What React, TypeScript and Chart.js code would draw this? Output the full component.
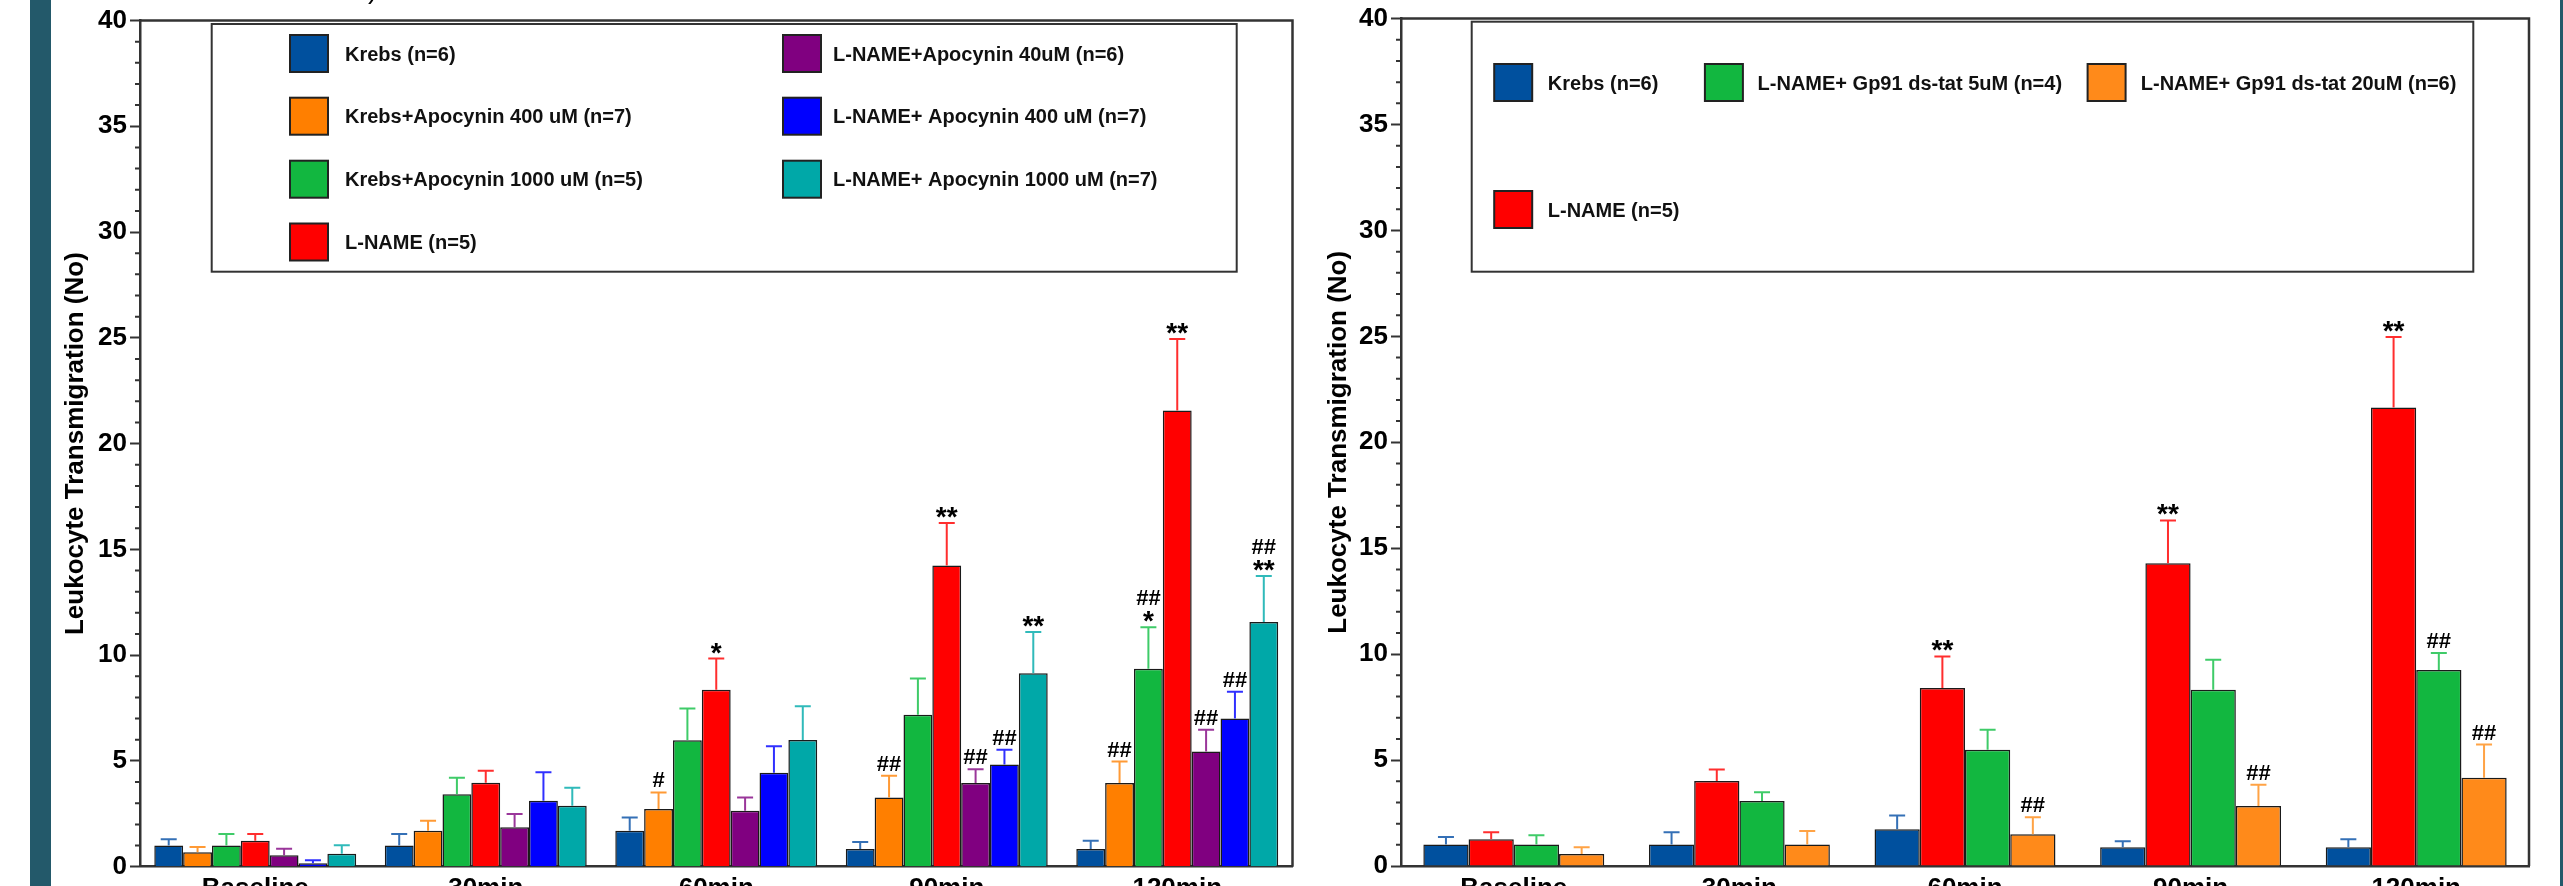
import React, { useEffect, useRef } from 'react';
import { Chart, registerables } from 'chart.js';

Chart.register(...registerables);

const FONT = "'Liberation Sans', Arial, Helvetica, sans-serif";

// ---------- shared ----------
const categories = ['Baseline', '30min', '60min', '90min', '120min'];
const yMin = 0;
const yMax = 40;
const yTitle = 'Leukocyte Transmigration (No)';

// ---------- left panel (Apocynin) ----------
const leftLabels = [
  'Krebs (n=6)',
  'Krebs+Apocynin 400 uM (n=7)',
  'Krebs+Apocynin 1000 uM (n=5)',
  'L-NAME (n=5)',
  'L-NAME+Apocynin 40uM (n=6)',
  'L-NAME+ Apocynin 400 uM (n=7)',
  'L-NAME+ Apocynin 1000 uM (n=7)',
];
const krebsA = [1.0, 1.0, 1.7, 0.84, 0.84];
const krebsAErr = [0.3, 0.54, 0.63, 0.33, 0.39];
const apo400 = [0.68, 1.7, 2.73, 3.27, 3.96];
const apo400Err = [0.25, 0.47, 0.78, 1.03, 1.01];
const apo1000 = [1.0, 3.42, 5.98, 7.18, 9.36];
const apo1000Err = [0.54, 0.78, 1.5, 1.72, 1.96];
const lnameA = [1.23, 3.97, 8.36, 14.24, 21.56];
const lnameAErr = [0.31, 0.56, 1.48, 2.01, 3.39];
const ln40 = [0.54, 1.86, 2.64, 3.96, 5.45];
const ln40Err = [0.31, 0.63, 0.63, 0.65, 1.02];
const ln400 = [0.16, 3.12, 4.44, 4.83, 7.01];
const ln400Err = [0.14, 1.34, 1.25, 0.7, 1.26];
const ln1000 = [0.61, 2.88, 5.99, 9.15, 11.57];
const ln1000Err = [0.4, 0.85, 1.59, 1.95, 2.17];
const leftColors = ['#00509E', '#FF7F00', '#12B740', '#FF0000', '#800080', '#0000FF', '#00A8A8'];
const leftErrColors = ['#3470B6', '#FF9A35', '#3FCB68', '#FF2E2E', '#9A369A', '#3030FF', '#30BABA'];
const leftMarks = [
  { d: 1, c: 2, lines: ['#'] },
  { d: 3, c: 2, lines: ['*'] },
  { d: 1, c: 3, lines: ['##'] },
  { d: 3, c: 3, lines: ['**'] },
  { d: 4, c: 3, lines: ['##'] },
  { d: 5, c: 3, lines: ['##'] },
  { d: 6, c: 3, lines: ['**'] },
  { d: 1, c: 4, lines: ['##'] },
  { d: 2, c: 4, lines: ['*', '##'] },
  { d: 3, c: 4, lines: ['**'] },
  { d: 4, c: 4, lines: ['##'] },
  { d: 5, c: 4, lines: ['##'] },
  { d: 6, c: 4, lines: ['**', '##'] },
];

// ---------- right panel (Gp91 ds-tat) ----------
const rightLabels = [
  'Krebs (n=6)',
  'L-NAME (n=5)',
  'L-NAME+ Gp91 ds-tat 5uM (n=4)',
  'L-NAME+ Gp91 ds-tat 20uM (n=6)',
];
const krebsB = [1.02, 1.02, 1.73, 0.88, 0.88];
const krebsBErr = [0.35, 0.57, 0.65, 0.29, 0.38];
const lnameB = [1.26, 4.01, 8.4, 14.29, 21.64];
const lnameBErr = [0.33, 0.55, 1.49, 2.02, 3.33];
const gp5 = [1.02, 3.07, 5.49, 8.32, 9.25];
const gp5Err = [0.43, 0.41, 0.94, 1.41, 0.8];
const gp20 = [0.57, 1.02, 1.5, 2.83, 4.16];
const gp20Err = [0.31, 0.63, 0.8, 1.01, 1.57];
const rightColors = ['#00509E', '#FF0000', '#12B740', '#FF8A1A'];
const rightErrColors = ['#3470B6', '#FF2E2E', '#3FCB68', '#FFA345'];
const rightMarks = [
  { d: 1, c: 2, lines: ['**'] },
  { d: 3, c: 2, lines: ['##'] },
  { d: 1, c: 3, lines: ['**'] },
  { d: 3, c: 3, lines: ['##'] },
  { d: 1, c: 4, lines: ['**'] },
  { d: 2, c: 4, lines: ['##'] },
  { d: 3, c: 4, lines: ['##'] },
];

const leftValues = [krebsA, apo400, apo1000, lnameA, ln40, ln400, ln1000];
const leftErrors = [krebsAErr, apo400Err, apo1000Err, lnameAErr, ln40Err, ln400Err, ln1000Err];
const rightValues = [krebsB, lnameB, gp5, gp20];
const rightErrors = [krebsBErr, lnameBErr, gp5Err, gp20Err];

const decorPlugin = {
  id: 'decor',
  afterDatasetsDraw(chart: any, _args: any, opts: any) {
    const ctx = chart.ctx;
    const y = chart.scales.y;
    ctx.save();
    chart.data.datasets.forEach((ds: any, di: number) => {
      const meta = chart.getDatasetMeta(di);
      meta.data.forEach((bar: any, i: number) => {
        const top = y.getPixelForValue(ds.data[i] + ds.errors[i]);
        ctx.strokeStyle = ds.errorColor;
        ctx.lineWidth = 2;
        ctx.beginPath();
        ctx.moveTo(bar.x, bar.y);
        ctx.lineTo(bar.x, top);
        ctx.moveTo(bar.x - 8, top);
        ctx.lineTo(bar.x + 8, top);
        ctx.stroke();
      });
    });
    // significance marks
    ctx.fillStyle = '#000';
    ctx.textAlign = 'center';
    ctx.textBaseline = 'alphabetic';
    (opts.marks || []).forEach((m: any) => {
      const ds = chart.data.datasets[m.d];
      const bar = chart.getDatasetMeta(m.d).data[m.c];
      let bottom = y.getPixelForValue(ds.data[m.c] + ds.errors[m.c]) - 5;
      m.lines.forEach((line: string) => {
        ctx.font = line.includes('*') ? `bold 28px ${FONT}` : `bold 22px ${FONT}`;
        const mt = ctx.measureText(line);
        const base = bottom - mt.actualBoundingBoxDescent;
        ctx.fillText(line, bar.x, base);
        bottom = base - mt.actualBoundingBoxAscent - 6;
      });
    });
    ctx.restore();
  },
  afterDraw(chart: any, _args: any, opts: any) {
    const ctx = chart.ctx;
    const { left, right, top, bottom } = chart.chartArea;
    const x = chart.scales.x;
    const y = chart.scales.y;
    ctx.save();
    // frame top & right
    ctx.strokeStyle = '#333';
    ctx.lineWidth = 2.5;
    ctx.beginPath();
    ctx.moveTo(left, top);
    ctx.lineTo(right, top);
    ctx.lineTo(right, bottom);
    ctx.stroke();
    // minor ticks
    ctx.lineWidth = 2;
    ctx.beginPath();
    for (let v = yMin; v <= yMax; v++) {
      if (v % 5 === 0) continue;
      const py = y.getPixelForValue(v);
      ctx.moveTo(left - 5, py);
      ctx.lineTo(left, py);
    }
    ctx.stroke();
    // category labels
    ctx.fillStyle = '#000';
    ctx.font = `bold 26px ${FONT}`;
    ctx.textAlign = 'center';
    ctx.textBaseline = 'alphabetic';
    categories.forEach((c, i) => {
      ctx.fillText(c, x.getPixelForValue(i), bottom + 29.5);
    });
    // legend
    const lg = opts.legend;
    ctx.strokeStyle = '#333';
    ctx.lineWidth = 2;
    ctx.strokeRect(lg.x, lg.y, lg.w, lg.h);
    ctx.font = `bold 20px ${FONT}`;
    ctx.textAlign = 'left';
    lg.items.forEach((it: any) => {
      const ds = chart.data.datasets[it.d];
      ctx.fillStyle = ds.backgroundColor;
      ctx.fillRect(it.bx, it.by, 38, 37);
      ctx.strokeStyle = '#222';
      ctx.lineWidth = 2;
      ctx.strokeRect(it.bx, it.by, 38, 37);
      ctx.fillStyle = '#111';
      ctx.fillText(ds.label, it.tx, it.by + 18.5 + 7.2);
    });
    ctx.restore();
  },
};

function buildConfig(p: any) {
  return {
    type: 'bar',
    data: {
      labels: categories,
      datasets: p.labels.map((lab: string, i: number) => ({
        label: lab,
        data: p.values[i],
        errors: p.errors[i],
        errorColor: p.errColors[i],
        backgroundColor: p.colors[i],
        borderColor: '#1a1a1a',
        borderWidth: 1.5,
        categoryPercentage: p.catPct,
        barPercentage: 1,
      })),
    },
    options: {
      responsive: false,
      animation: false,
      devicePixelRatio: 1,
      layout: { padding: p.padding },
      plugins: {
        legend: { display: false },
        tooltip: { enabled: false },
        decor: { legend: p.legend, marks: p.marks },
      },
      scales: {
        x: {
          type: 'category',
          offset: true,
          grid: { display: false },
          ticks: { display: false },
          border: { display: true, color: '#333', width: 2.5 },
          afterFit: (s: any) => { s.height = p.xHeight; },
        },
        y: {
          type: 'linear',
          position: 'left',
          min: yMin,
          max: yMax,
          ticks: {
            stepSize: 1,
            maxTicksLimit: 41,
            autoSkip: false,
            padding: 3,
            color: '#000',
            font: { family: FONT, size: 26, weight: 'bold' },
            callback: (v: any) => (v % 5 === 0 ? String(v) : ''),
          },
          grid: {
            display: true,
            drawOnChartArea: false,
            drawTicks: true,
            tickLength: 10,
            tickWidth: 2,
            tickColor: (c: any) => (c.tick && c.tick.value % 5 === 0 ? '#333' : 'rgba(0,0,0,0)'),
          },
          border: { display: true, color: '#333', width: 2.5 },
          title: {
            display: true,
            text: yTitle,
            color: '#000',
            font: { family: FONT, size: 26, weight: 'bold' },
            padding: { top: p.titlePad, bottom: 0 },
          },
          afterFit: (s: any) => { s.width = p.yWidth; },
        },
      },
    },
    plugins: [decorPlugin],
  };
}

const leftParams = {
  labels: leftLabels,
  values: leftValues,
  errors: leftErrors,
  colors: leftColors,
  errColors: leftErrColors,
  marks: leftMarks,
  catPct: 0.876,
  padding: { top: 20.5, right: 7.5, left: 0, bottom: 0 },
  xHeight: 73.3,
  yWidth: 140,
  titlePad: 60.4,
  legend: {
    x: 211.7, y: 24, w: 1025, h: 247.7,
    items: [
      { d: 0, bx: 290, by: 35, tx: 345 },
      { d: 1, bx: 290, by: 97.7, tx: 345 },
      { d: 2, bx: 290, by: 160.7, tx: 345 },
      { d: 3, bx: 290, by: 223.5, tx: 345 },
      { d: 4, bx: 783, by: 35, tx: 833 },
      { d: 5, bx: 783, by: 97.7, tx: 833 },
      { d: 6, bx: 783, by: 160.7, tx: 833 },
    ],
  },
};

const rightParams = {
  labels: rightLabels,
  values: rightValues,
  errors: rightErrors,
  colors: rightColors,
  errColors: rightErrColors,
  marks: rightMarks,
  catPct: 0.802,
  padding: { top: 18.5, right: 26, left: 0, bottom: 0 },
  xHeight: 74,
  yWidth: 101,
  titlePad: 23.4,
  legend: {
    x: 171.7, y: 21.7, w: 1001.6, h: 250,
    items: [
      { d: 0, bx: 194.2, by: 64, tx: 247.8 },
      { d: 2, bx: 404.9, by: 64, tx: 457.6 },
      { d: 3, bx: 787.6, by: 64, tx: 840.8 },
      { d: 1, bx: 194.2, by: 191, tx: 247.8 },
    ],
  },
};

function Panel({ params, left, width, height }: any) {
  const ref = useRef<HTMLCanvasElement | null>(null);
  useEffect(() => {
    const chart = new Chart(ref.current as HTMLCanvasElement, buildConfig(params) as any);
    return () => chart.destroy();
  }, []);
  return (
    <canvas
      ref={ref}
      width={width}
      height={height}
      style={{ position: 'absolute', left, top: 0, width, height, display: 'block' }}
    />
  );
}

export default function App() {
  return (
    <div
      style={{
        position: 'fixed', left: 0, top: 0, width: 2563, height: 886,
        overflow: 'hidden', background: '#fff',
      }}
    >
      <div style={{ position: 'absolute', left: 30, top: 0, width: 21, height: 886, background: '#23596A' }} />
      <div style={{ position: 'absolute', left: 2560, top: 0, width: 3, height: 886, background: '#23596A' }} />
      <Panel params={leftParams} left={0} width={1300} height={940} />
      <Panel params={rightParams} left={1300} width={1255} height={940} />
      <div
        style={{
          position: 'absolute', left: 368, top: -25, fontFamily: FONT,
          fontSize: 28, lineHeight: '28px', color: '#000',
        }}
      >
        )
      </div>
    </div>
  );
}
